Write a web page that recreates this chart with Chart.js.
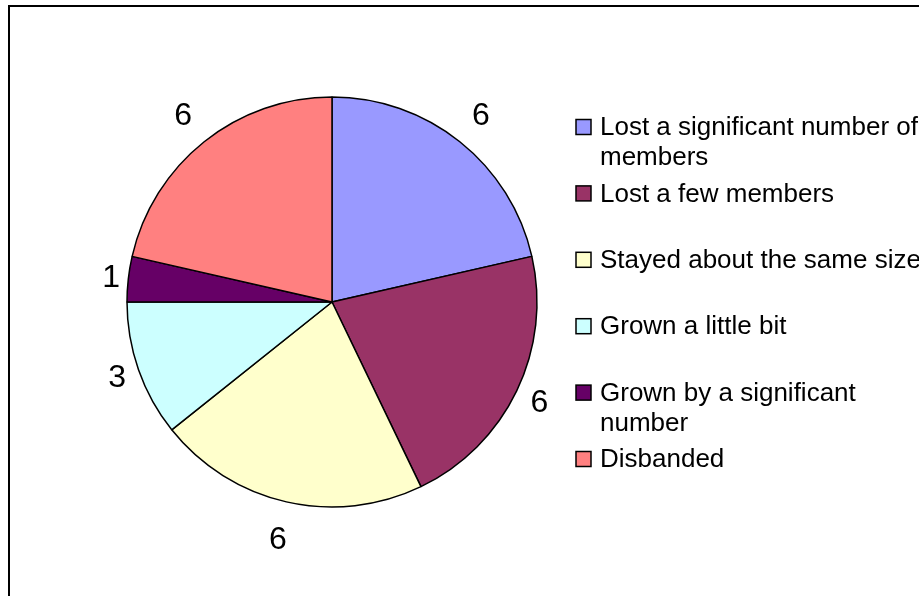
<!DOCTYPE html>
<html>
<head>
<meta charset="utf-8">
<script src="https://cdn.jsdelivr.net/npm/chart.js@4/dist/chart.umd.min.js"></script>
<style>
	html, body { margin: 0; padding: 0; background: #fff; }
	#wrap { position: relative; width: 919px; height: 596px; }
</style>
</head>
<body>
<div id="wrap"><canvas id="pieChart" width="919" height="596"></canvas></div>
<script>
'use strict';

// Categories (multi-line labels wrap as in the legend)
const categories = [
	['Lost a significant number of', 'members'],
	['Lost a few members'],
	['Stayed about the same size'],
	['Grown a little bit'],
	['Grown by a significant', 'number'],
	['Disbanded']
];
const counts = [6, 6, 6, 3, 1, 6];
const sliceColours = ['#9999FF', '#993366', '#FFFFCC', '#CCFFFF', '#660066', '#FF8080'];

const fontFamily = '"Liberation Sans", Arial, sans-serif';

// Frame line on the left and top edge
const framePlugin = {
	id: 'frame',
	beforeDraw(chart) {
		const ctx = chart.ctx;
		ctx.save();
		ctx.fillStyle = '#fff';
		ctx.fillRect(0, 0, chart.width, chart.height);
		ctx.strokeStyle = '#000';
		ctx.lineWidth = 2;
		ctx.beginPath();
		ctx.moveTo(9, chart.height);
		ctx.lineTo(9, 6);
		ctx.lineTo(chart.width, 6);
		ctx.stroke();
		ctx.restore();
	}
};

// Value labels just outside each slice
const valueLabelPlugin = {
	id: 'valueLabels',
	afterDatasetsDraw(chart) {
		const ctx = chart.ctx;
		const meta = chart.getDatasetMeta(0);
		ctx.save();
		ctx.font = '32px ' + fontFamily;
		ctx.fillStyle = '#000';
		ctx.textAlign = 'center';
		ctx.textBaseline = 'middle';
		meta.data.forEach(function(arc, i) {
			const mid = (arc.startAngle + arc.endAngle) / 2;
			const dx = Math.cos(mid);
			const dy = Math.sin(mid);
			// label box pushed out further vertically than sideways
			const dist = arc.outerRadius + 13.5 + Math.abs(dx) * 1 + Math.abs(dy) * 25;
			ctx.fillText(String(counts[i]), arc.x + dx * dist, arc.y + dy * dist + 1);
		});
		ctx.restore();
	}
};

// Legend on the right, items spread evenly
const legendPlugin = {
	id: 'sideLegend',
	afterDraw(chart) {
		const ctx = chart.ctx;
		const boxX = 576;
		const textX = 600;
		const firstY = 127;
		const pitch = 66.4;
		const lineGap = 30;
		ctx.save();
		ctx.font = '26px ' + fontFamily;
		ctx.textBaseline = 'middle';
		ctx.textAlign = 'left';
		categories.forEach(function(lines, i) {
			const y = firstY + i * pitch;
			ctx.fillStyle = sliceColours[i];
			ctx.fillRect(boxX, y - 7.5, 15, 15);
			ctx.strokeStyle = '#000';
			ctx.lineWidth = 1.5;
			ctx.strokeRect(boxX, y - 7.5, 15, 15);
			ctx.fillStyle = '#000';
			lines.forEach(function(line, j) {
				ctx.fillText(line, textX, y + 1 + j * lineGap);
			});
		});
		ctx.restore();
	}
};

const pieChart = new Chart(document.getElementById('pieChart'), {
	type: 'pie',
	data: {
		labels: categories,
		datasets: [
			{
				data: counts,
				backgroundColor: sliceColours,
				borderColor: '#000',
				borderWidth: 1.5
			}
		]
	},
	options: {
		responsive: false,
		animation: false,
		radius: 205,
		layout: {
			padding: { left: 0, right: 255, top: 8, bottom: 0 }
		},
		plugins: {
			legend: { display: false },
			tooltip: { enabled: false }
		}
	},
	plugins: [framePlugin, valueLabelPlugin, legendPlugin]
});
</script>
</body>
</html>
